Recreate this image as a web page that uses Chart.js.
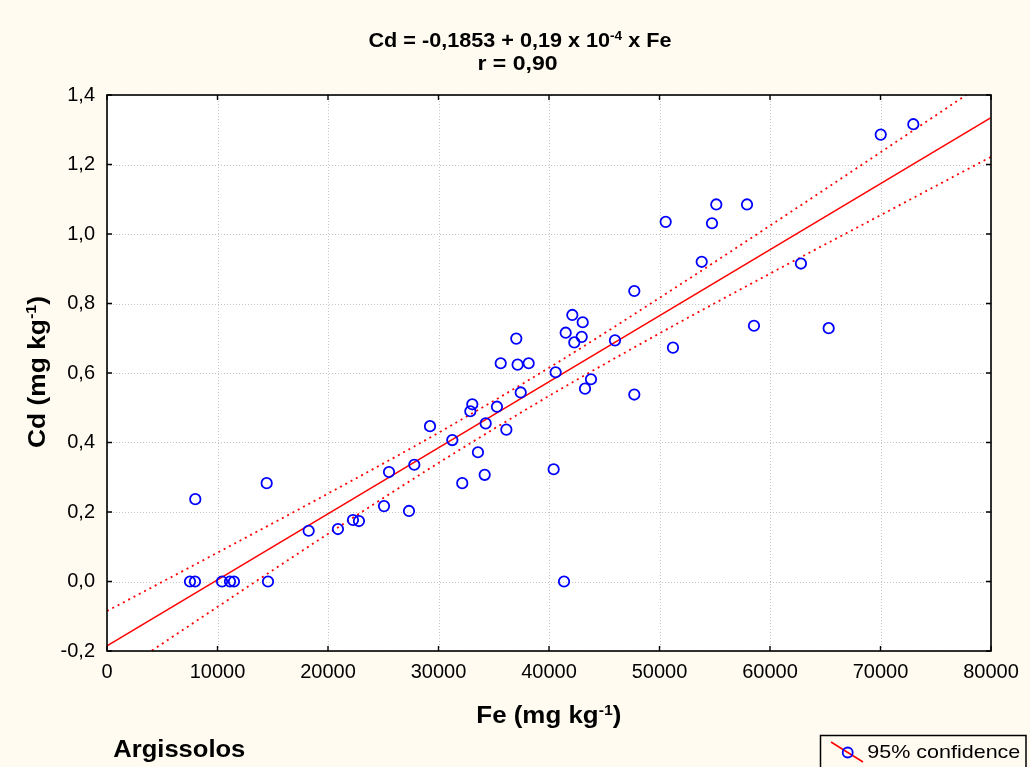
<!DOCTYPE html>
<html>
<head>
<meta charset="utf-8">
<title>Cd x Fe - Argissolos</title>
<script src="https://cdn.jsdelivr.net/npm/chart.js@4.4.1/dist/chart.umd.min.js"></script>
<style>
  html, body { margin: 0; padding: 0; background: #fffbf0; }
  canvas { display: block; }
</style>
</head>
<body>
<canvas id="chart" width="1030" height="767"></canvas>
<script>
// Soil samples: Fe and Cd contents (mg kg-1)
const FE = [7510, 7960, 10410, 11130, 11490, 14570, 41360,
  7990, 14450, 18250, 20900, 22260, 22800, 25070, 27330,
  25520, 27810, 29230, 31250, 32150, 33570, 34180,
  32880, 33060, 34270, 35290, 36140,
  35630, 37040, 37160, 38160, 37440,
  40600, 40420,
  42110, 43050, 41510, 42960, 42290, 43800, 43260, 45970,
  47720, 47720,
  50560, 51220, 53820, 54750, 55140, 57920, 58550, 62800, 65310, 70020, 72970];
const CD = [0, 0, 0, 0, 0, 0, 0,
  0.237, 0.283, 0.146, 0.151, 0.177, 0.174, 0.217, 0.203,
  0.315, 0.336, 0.447, 0.407, 0.283, 0.372, 0.307,
  0.490, 0.510, 0.455, 0.503, 0.437,
  0.628, 0.699, 0.624, 0.628, 0.544,
  0.602, 0.323,
  0.767, 0.746, 0.716, 0.704, 0.688, 0.582, 0.555, 0.694,
  0.836, 0.538,
  1.035, 0.673, 0.920, 1.031, 1.085, 1.085, 0.736, 0.915, 0.729, 1.286, 1.316];

// Fitted line: Cd = -0,1853 + 0,19 x 10^-4 x Fe
const INTERCEPT = -0.1853;
const SLOPE = 0.19e-4;
const FIT_X = [0, 80000];

// 95% confidence band of the fit
const BAND_X = [0, 10000, 20000, 30000, 40000, 50000, 60000, 70000, 80000];
const BAND_UPPER = [-0.085, 0.083, 0.253, 0.428, 0.615, 0.816, 1.024, 1.235, 1.448];
const BAND_LOWER = [-0.285, -0.073, 0.137, 0.341, 0.534, 0.714, 0.886, 1.054, 1.222];

// Axis ticks
const X_TICKS = [0, 10000, 20000, 30000, 40000, 50000, 60000, 70000, 80000];
const Y_TICKS = [-0.2, 0.0, 0.2, 0.4, 0.6, 0.8, 1.0, 1.2, 1.4];

const FONT = '"Liberation Sans", Arial, Helvetica, sans-serif';

// Draws a run of text pieces (some as superscripts), stretched to a given width
function richText(ctx, parts, size, weight, o) {
  ctx.save();
  const mainFont = `${weight} ${size}px ${FONT}`;
  const supFont = `${weight} ${Math.round(size * 0.62)}px ${FONT}`;
  let total = 0;
  const widths = parts.map(([t, sup]) => {
    ctx.font = sup ? supFont : mainFont;
    const w = ctx.measureText(t).width;
    total += w;
    return w;
  });
  const sx = o.width ? o.width / total : 1;
  ctx.translate(o.x, o.y);
  if (o.rotate) ctx.rotate(o.rotate);
  ctx.scale(sx, 1);
  ctx.fillStyle = '#000';
  ctx.textAlign = 'left';
  ctx.textBaseline = 'alphabetic';
  let x = o.align === 'center' ? -total / 2 : 0;
  parts.forEach(([t, sup], i) => {
    ctx.font = sup ? supFont : mainFont;
    ctx.fillText(t, x, sup ? -size * 0.37 : 0);
    x += widths[i];
  });
  ctx.restore();
}

const decor = {
  id: 'decor',
  beforeDraw(chart) {
    const { ctx, chartArea: a } = chart;
    ctx.save();
    ctx.fillStyle = '#fffbf0';
    ctx.fillRect(0, 0, chart.width, chart.height);
    ctx.fillStyle = '#ffffff';
    ctx.fillRect(a.left, a.top, a.right - a.left, a.bottom - a.top);
    ctx.restore();
  },
  beforeDatasetsDraw(chart) {
    const { ctx, chartArea: a, scales: { x, y } } = chart;
    ctx.save();
    ctx.strokeStyle = '#c4c4c4';
    ctx.lineWidth = 1;
    ctx.setLineDash([1, 2]);
    ctx.beginPath();
    X_TICKS.forEach(v => {
      const px = Math.round(x.getPixelForValue(v)) + 0.5;
      ctx.moveTo(px, a.top); ctx.lineTo(px, a.bottom);
    });
    Y_TICKS.forEach(v => {
      const py = Math.round(y.getPixelForValue(v)) + 0.5;
      ctx.moveTo(a.left, py); ctx.lineTo(a.right, py);
    });
    ctx.stroke();
    ctx.restore();
  },
  afterDatasetsDraw(chart) {
    const { ctx, chartArea: a, scales: { x, y } } = chart;
    ctx.save();
    // frame and inward tick marks
    ctx.strokeStyle = '#000';
    ctx.lineWidth = 1.6;
    ctx.strokeRect(a.left, a.top, a.right - a.left, a.bottom - a.top);
    ctx.lineWidth = 1.4;
    ctx.beginPath();
    const t = 5;
    X_TICKS.forEach(v => {
      const px = x.getPixelForValue(v);
      ctx.moveTo(px, a.bottom); ctx.lineTo(px, a.bottom - t);
      ctx.moveTo(px, a.top); ctx.lineTo(px, a.top + t);
    });
    Y_TICKS.forEach(v => {
      const py = y.getPixelForValue(v);
      ctx.moveTo(a.left, py); ctx.lineTo(a.left + t, py);
      ctx.moveTo(a.right, py); ctx.lineTo(a.right - t, py);
    });
    ctx.stroke();
    ctx.restore();

    // titles
    richText(ctx, [['Cd = -0,1853 + 0,19 x 10', false], ['-4', true], [' x Fe', false]], 20.5, 'bold',
      { x: 520, y: 47.3, align: 'center', width: 303 });
    richText(ctx, [['r = 0,90', false]], 20.5, 'bold', { x: 517.5, y: 70, align: 'center', width: 80 });
    richText(ctx, [['Fe (mg kg', false], ['-1', true], [')', false]], 23, 'bold',
      { x: 548.8, y: 723.3, align: 'center', width: 145 });
    richText(ctx, [['Cd (mg kg', false], ['-1', true], [')', false]], 23, 'bold',
      { x: 45, y: 372, align: 'center', width: 152, rotate: -Math.PI / 2 });
    richText(ctx, [['Argissolos', false]], 23, 'bold', { x: 113.3, y: 757.3, align: 'left', width: 132 });

    // legend
    ctx.save();
    ctx.strokeStyle = '#000';
    ctx.lineWidth = 1.5;
    ctx.strokeRect(820.5, 735.5, 205.5, 45);
    ctx.strokeStyle = '#ff0000';
    ctx.lineWidth = 1.5;
    ctx.beginPath();
    ctx.moveTo(831, 742); ctx.lineTo(863, 762);
    ctx.stroke();
    ctx.strokeStyle = '#0000ff';
    ctx.lineWidth = 1.8;
    ctx.beginPath();
    ctx.arc(847.7, 752.5, 5, 0, Math.PI * 2);
    ctx.stroke();
    ctx.restore();
    richText(ctx, [['95% confidence', false]], 19, 'normal', { x: 867.3, y: 758.3, align: 'left', width: 153 });
  }
};

const fitData = FIT_X.map(v => ({ x: v, y: INTERCEPT + SLOPE * v }));
const upperData = BAND_X.map((v, i) => ({ x: v, y: BAND_UPPER[i] }));
const lowerData = BAND_X.map((v, i) => ({ x: v, y: BAND_LOWER[i] }));
const pointData = FE.map((v, i) => ({ x: v, y: CD[i] }));

const bandStyle = {
  type: 'line',
  borderColor: '#ff0000',
  borderWidth: 1.8,
  borderDash: [2, 4],
  pointRadius: 0,
  fill: false,
  cubicInterpolationMode: 'monotone',
  order: 2
};

new Chart(document.getElementById('chart'), {
  type: 'scatter',
  data: {
    datasets: [
      {
        label: 'Cd',
        data: pointData,
        pointStyle: 'circle',
        pointRadius: 5.2,
        pointBorderWidth: 1.8,
        borderColor: '#0000ff',
        backgroundColor: 'rgba(0,0,0,0)',
        order: 0
      },
      {
        type: 'line',
        label: 'fit',
        data: fitData,
        borderColor: '#ff0000',
        borderWidth: 1.5,
        pointRadius: 0,
        fill: false,
        order: 1
      },
      Object.assign({ label: 'upper', data: upperData }, bandStyle),
      Object.assign({ label: 'lower', data: lowerData }, bandStyle)
    ]
  },
  options: {
    responsive: false,
    animation: false,
    devicePixelRatio: 1,
    layout: { padding: { left: 0, top: 95, right: 39, bottom: 0 } },
    plugins: { legend: { display: false }, tooltip: { enabled: false }, title: { display: false } },
    scales: {
      x: {
        type: 'linear',
        min: 0,
        max: 80000,
        afterFit(s) { s.height = 116; },
        afterBuildTicks(s) { s.ticks = X_TICKS.map(v => ({ value: v })); },
        grid: { display: false, drawTicks: false },
        border: { display: false },
        ticks: {
          color: '#000',
          padding: 9,
          maxRotation: 0,
          autoSkip: false,
          font: { family: FONT, size: 20 },
          callback: v => String(v)
        }
      },
      y: {
        type: 'linear',
        min: -0.2,
        max: 1.4,
        afterFit(s) { s.width = 107; },
        afterBuildTicks(s) { s.ticks = Y_TICKS.map(v => ({ value: v })); },
        grid: { display: false, drawTicks: false },
        border: { display: false },
        ticks: {
          color: '#000',
          padding: 12,
          autoSkip: false,
          font: { family: FONT, size: 20 },
          callback: v => (Math.abs(v) < 1e-9 ? 0 : v).toFixed(1).replace('.', ',')
        }
      }
    }
  },
  plugins: [decor]
});
</script>
</body>
</html>
